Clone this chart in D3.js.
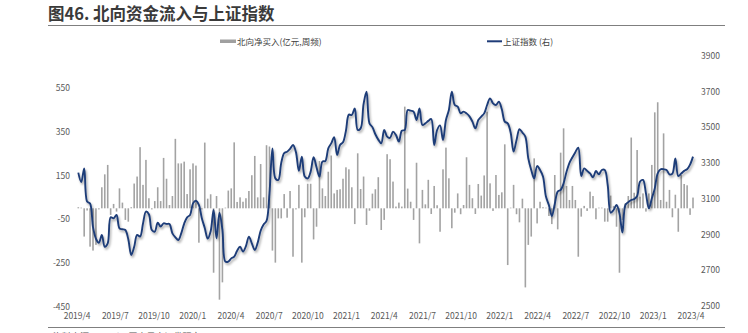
<!DOCTYPE html>
<html>
<head>
<meta charset="utf-8">
<script src="https://cdn.jsdelivr.net/npm/d3@7"></script>
<style>
  html, body { margin: 0; padding: 0; background: #fff; }
  svg { display: block; }
  text { font-family: "Noto Sans CJK SC", "Noto Sans", sans-serif; }
</style>
</head>
<body>
<svg id="chart" width="748" height="333"></svg>
<script>
// Weekly observations, first Friday of the series
const firstWeek = "2019-04-05";

// 北向净买入 (亿元, weekly)
const northbound = [
  5, 3, -129, -10, -175, -193, -167, -5, 96, 155,
  198, -30, 20, -15, 91, 26, -53, -61, 5, 113,
  145, 279, 107, 221, 46, -5, 33, 96, 33, 230,
  135, 15, 56, 317, 205, 205, 213, 65, 178, 205,
  195, -157, -5, 300, 44, 64, -294, 56, -417, -338,
  3, 81, 91, 301, 29, 50, 30, 46, 79, 151,
  239, 50, 202, 50, 288, 282, -193, -248, -46, -46,
  65, -43, 79, -221, -5, 107, -248, -41, 112, 112,
  -142, -84, 216, 91, 56, 167, 241, 68, 84, 87,
  135, 187, 178, 96, -72, 251, 88, 145, -76, -11,
  67, 87, 142, -99, -53, 247, 224, 122, 8, 26,
  8, 464, 90, 30, -53, 208, -160, 84, 18, 130,
  -26, 102, 14, -107, 178, 277, 137, -91, -20, 68,
  -27, 15, 233, 107, 46, -26, 111, 58, 150, 441,
  114, -12, 152, 61, 73, 292, -259, 3, 107, -27,
  -64, 44, -361, -167, -129, 228, -69, 30, 5, 3,
  -35, -72, 152, -96, 254, 365, 102, 38, 102, 38,
  -221, -38, 11, -12, 76, 56, -50, 3, 3, -61,
  -61, 58, 11, -84, -294, -53, 23, 56, 323, 71,
  266, 53, 68, -15, 68, 198, 438, 484, 38, 342,
  30, 84, -41, 62, -107, 152, 111, 105, -30, 49
];

// 上证指数 (weekly close, right axis)
const sseIndex = [
  3245, 3192, 3269, 3083, 3072, 2940, 2875, 2852, 2896, 2830,
  2849, 2995, 2989, 3008, 2933, 2928, 2924, 2872, 2784, 2830,
  2896, 2887, 2960, 3027, 3012, 2924, 2915, 2965, 2943, 2961,
  2958, 2957, 2905, 2883, 2868, 2905, 2960, 2995, 3008, 3073,
  3088, 3064, 2990, 2935, 2876, 2917, 3036, 2877, 3021, 2924,
  2747, 2747, 2765, 2775, 2808, 2830, 2803, 2834, 2887, 2849,
  2812, 2853, 2920, 2955, 2975, 3129, 3381, 3213, 3204, 3300,
  3355, 3362, 3378, 3400, 3360, 3255, 3335, 3223, 3213, 3251,
  3331, 3275, 3223, 3307, 3310, 3381, 3409, 3443, 3344, 3400,
  3415, 3480, 3570, 3568, 3605, 3484, 3493, 3630, 3699, 3521,
  3500, 3460, 3430, 3409, 3484, 3447, 3440, 3475, 3456, 3419,
  3480, 3484, 3596, 3592, 3587, 3540, 3605, 3512, 3521, 3535,
  3545, 3400, 3484, 3510, 3428, 3540, 3596, 3699, 3624, 3615,
  3577, 3587, 3577, 3560, 3531, 3493, 3540, 3559, 3577, 3624,
  3661, 3633, 3624, 3643, 3600, 3531, 3521, 3470, 3363, 3428,
  3488, 3469, 3447, 3325, 3260, 3213, 3282, 3260, 3223, 3111,
  3064, 3002, 3069, 3139, 3148, 3185, 3250, 3300, 3331, 3360,
  3385, 3226, 3269, 3255, 3241, 3219, 3254, 3236, 3260, 3260,
  3176, 3021, 3036, 3064, 3017, 2909, 3064, 3080, 3092, 3097,
  3114, 3195, 3204, 3129, 3045, 3100, 3157, 3241, 3264, 3264,
  3260, 3235, 3240, 3325, 3226, 3240, 3255, 3264, 3290, 3335
];

// Axis ticks
const leftTicks = [-450, -250, -50, 150, 350, 550];
const rightTicks = [2500, 2700, 2900, 3100, 3300, 3500, 3700, 3900];
const monthTicks = ["2019/4", "2019/7", "2019/10", "2020/1", "2020/4", "2020/7",
  "2020/10", "2021/1", "2021/4", "2021/7", "2021/10", "2022/1", "2022/4",
  "2022/7", "2022/10", "2023/1", "2023/4"];

const titleText = "图46. 北向资金流入与上证指数";
const legendBar = "北向净买入(亿元,周频)";
const legendLine = "上证指数 (右)";
const sourceText = "资料来源：Wind，国泰君安证券研究";

const parseDay = d3.timeParse("%Y-%m-%d");
const parseMonth = d3.timeParse("%Y/%m");
const start = parseDay(firstWeek);
const weeks = northbound.map((_, i) => d3.timeDay.offset(start, 7 * i));

const svg = d3.select("#chart");

// Scales
const x = d3.scaleTime()
  .domain([weeks[0], weeks[weeks.length - 1]])
  .range([78.3, 693]);
const yLeft = d3.scaleLinear().domain([-450, 550]).range([306.9, 87.8]);
const yRight = d3.scaleLinear().domain([2500, 3900]).range([305.7, 55.7]);

// Title and rules
svg.append("text")
  .attr("x", 48).attr("y", 20)
  .attr("font-size", 16.5).attr("font-weight", 700)
  .attr("fill", "#3a3a3a")
  .text(titleText);
svg.append("line")
  .attr("x1", 48).attr("x2", 725).attr("y1", 25.5).attr("y2", 25.5)
  .attr("stroke", "#7f7f7f").attr("stroke-width", 1.2);
svg.append("line")
  .attr("x1", 48).attr("x2", 725).attr("y1", 327.5).attr("y2", 327.5)
  .attr("stroke", "#7f7f7f").attr("stroke-width", 1.2);
// Source note sits below the bottom rule, running off the lower edge
svg.append("text")
  .attr("x", 53).attr("y", 339.5)
  .attr("font-size", 9).attr("fill", "#555")
  .text(sourceText);

// Legend
const legend = svg.append("g");
legend.append("rect")
  .attr("x", 220).attr("y", 39.5).attr("width", 16).attr("height", 3.5)
  .attr("fill", "#a0a0a0");
legend.append("text")
  .attr("x", 237).attr("y", 44.5)
  .attr("font-size", 8.5).attr("fill", "#404040")
  .text(legendBar);
legend.append("line")
  .attr("x1", 487).attr("x2", 502).attr("y1", 41.3).attr("y2", 41.3)
  .attr("stroke", "#1f3c78").attr("stroke-width", 2);
legend.append("text")
  .attr("x", 503).attr("y", 44.5)
  .attr("font-size", 8.5).attr("fill", "#404040")
  .text(legendLine);

// Shadow for the index line
const defs = svg.append("defs");
const f = defs.append("filter").attr("id", "lineShadow")
  .attr("x", "-5%").attr("y", "-5%").attr("width", "110%").attr("height", "120%");
f.append("feDropShadow")
  .attr("dx", 1.2).attr("dy", 2).attr("stdDeviation", 1.1)
  .attr("flood-color", "#000").attr("flood-opacity", 0.35);

// Bars
svg.append("g")
  .selectAll("rect")
  .data(northbound)
  .join("rect")
  .attr("x", (d, i) => x(weeks[i]) - 0.8)
  .attr("width", 1.6)
  .attr("y", d => Math.min(yLeft(d), yLeft(0)))
  .attr("height", d => Math.max(0.6, Math.abs(yLeft(d) - yLeft(0))))
  .attr("fill", "#a3a3a3");

// Index line
const line = d3.line()
  .x((d, i) => x(weeks[i]))
  .y(d => yRight(d))
  .curve(d3.curveCatmullRom.alpha(0.5));
svg.append("path")
  .datum(sseIndex)
  .attr("d", line)
  .attr("fill", "none")
  .attr("stroke", "#1f3c78")
  .attr("stroke-width", 1.9)
  .attr("stroke-linejoin", "round")
  .attr("filter", "url(#lineShadow)");

// Axes
const fmt = v => String(v).replace("\u2212", "-");
const axisLeft = d3.axisLeft(yLeft).tickValues(leftTicks).tickSize(0).tickPadding(0).tickFormat(fmt);
const gL = svg.append("g").attr("transform", "translate(70,0)").call(axisLeft);
const axisRight = d3.axisRight(yRight).tickValues(rightTicks).tickSize(0).tickPadding(0).tickFormat(fmt);
const gR = svg.append("g").attr("transform", "translate(701,0)").call(axisRight);
const axisBottom = d3.axisBottom(x)
  .tickValues(monthTicks.map(parseMonth))
  .tickSize(0).tickPadding(0)
  .tickFormat(d3.timeFormat("%Y/%-m"));
const gB = svg.append("g").attr("transform", "translate(0,313)").call(axisBottom);

[gL, gR, gB].forEach(g => {
  g.select(".domain").remove();
  g.selectAll("text")
    .attr("font-size", 8.5)
    .attr("fill", "#595959")
    .attr("font-family", "\"Noto Sans CJK SC\", \"Noto Sans\", sans-serif");
});
</script>
</body>
</html>
